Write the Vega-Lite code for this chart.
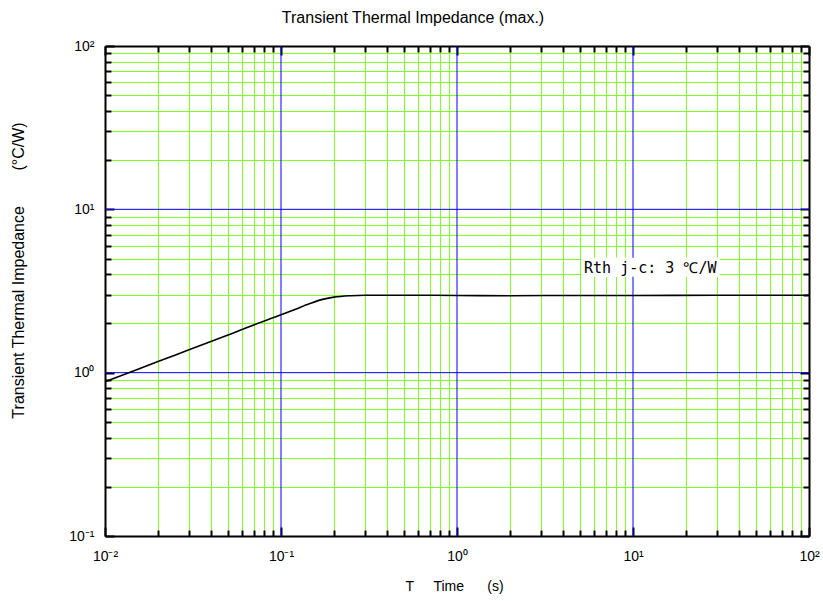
{
  "$schema": "https://vega.github.io/schema/vega-lite/v6.json",
  "width": 704,
  "height": 490,
  "autosize": "none",
  "padding": {"left": 105, "top": 46, "right": 14, "bottom": 65},
  "background": "white",
  "config": {"view": {"stroke": null}, "font": "Liberation Sans"},
  "title": {"text": "Transient Thermal Impedance (max.)", "fontSize": 16, "fontWeight": "normal", "font": "Liberation Sans", "color": "black", "offset": 13, "dx": -44},
  "datasets": {
    "curve": [
      {"t": 0.01, "z": 0.88}, {"t": 0.015, "z": 1.04}, {"t": 0.02, "z": 1.17}, {"t": 0.03, "z": 1.38},
      {"t": 0.05, "z": 1.70}, {"t": 0.07, "z": 1.96}, {"t": 0.1, "z": 2.26}, {"t": 0.12, "z": 2.44},
      {"t": 0.146, "z": 2.65}, {"t": 0.17, "z": 2.80}, {"t": 0.2, "z": 2.90}, {"t": 0.25, "z": 2.96},
      {"t": 0.3, "z": 2.98}, {"t": 0.5, "z": 2.98}, {"t": 1, "z": 2.97}, {"t": 2, "z": 2.96},
      {"t": 5, "z": 2.97}, {"t": 10, "z": 2.97}, {"t": 30, "z": 2.98}, {"t": 100, "z": 2.98}
    ],
    "note": [
      {"label": "Rth j-c: 3 ℃/W", "t": 5.27, "z": 4.4, "t1": 5.1, "t2": 31, "z1": 3.87, "z2": 5.06}
    ],
    "majorT": [{"v": 0.1}, {"v": 1}, {"v": 10}],
    "majorZ": [{"v": 1}, {"v": 10}]
  },
  "resolve": {"axis": {"x": "independent", "y": "independent"}},
  "layer": [
    {
      "data": {"name": "note"},
      "mark": {"type": "rect", "color": "white"},
      "encoding": {
        "x": {"field": "t1", "type": "quantitative",
          "scale": {"type": "log", "domain": [0.01, 100], "nice": false},
          "axis": {"orient": "bottom", "title": null, "labels": false, "domain": false,
            "values": [0.02,0.03,0.04,0.05,0.06,0.07,0.08,0.09,0.2,0.3,0.4,0.5,0.6,0.7,0.8,0.9,2,3,4,5,6,7,8,9,20,30,40,50,60,70,80,90],
            "grid": true, "gridColor": "#80ff20", "gridWidth": 1, "gridOpacity": 1,
            "tickColor": "black", "tickWidth": 2, "tickSize": -6}},
        "x2": {"field": "t2"},
        "y": {"field": "z1", "type": "quantitative",
          "scale": {"type": "log", "domain": [0.1, 100], "nice": false},
          "axis": {"orient": "left", "title": null, "labels": false, "domain": false,
            "values": [0.2,0.3,0.4,0.5,0.6,0.7,0.8,0.9,2,3,4,5,6,7,8,9,20,30,40,50,60,70,80,90],
            "grid": true, "gridColor": "#80ff20", "gridWidth": 1, "gridOpacity": 1,
            "tickColor": "black", "tickWidth": 2, "tickSize": -6}},
        "y2": {"field": "z2"}
      }
    },
    {
      "data": {"name": "majorT"},
      "mark": {"type": "rule", "color": "#0000ff", "strokeWidth": 1},
      "encoding": {
        "x": {"field": "v", "type": "quantitative", "scale": {"type": "log", "domain": [0.01, 100], "nice": false}, "axis": null}
      }
    },
    {
      "data": {"name": "majorZ"},
      "mark": {"type": "rule", "color": "#0000ff", "strokeWidth": 1},
      "encoding": {
        "y": {"field": "v", "type": "quantitative", "scale": {"type": "log", "domain": [0.1, 100], "nice": false}, "axis": null}
      }
    },
    {
      "data": {"name": "note"},
      "mark": {"type": "rect", "color": "white"},
      "encoding": {
        "x": {"field": "t1", "type": "quantitative",
          "scale": {"type": "log", "domain": [0.01, 100], "nice": false},
          "axis": {"orient": "top", "title": null, "labels": false, "grid": false, "domain": false,
            "values": [0.02,0.03,0.04,0.05,0.06,0.07,0.08,0.09,0.2,0.3,0.4,0.5,0.6,0.7,0.8,0.9,2,3,4,5,6,7,8,9,20,30,40,50,60,70,80,90],
            "tickColor": "black", "tickWidth": 2, "tickSize": -6}},
        "x2": {"field": "t2"},
        "y": {"field": "z1", "type": "quantitative",
          "scale": {"type": "log", "domain": [0.1, 100], "nice": false},
          "axis": {"orient": "right", "title": null, "labels": false, "grid": false, "domain": false,
            "values": [0.2,0.3,0.4,0.5,0.6,0.7,0.8,0.9,2,3,4,5,6,7,8,9,20,30,40,50,60,70,80,90],
            "tickColor": "black", "tickWidth": 2, "tickSize": -6}},
        "y2": {"field": "z2"}
      }
    },
    {
      "data": {"name": "curve"},
      "mark": {"type": "line", "color": "black", "strokeWidth": 1.6, "interpolate": "monotone"},
      "encoding": {
        "x": {"field": "t", "type": "quantitative",
          "scale": {"type": "log", "domain": [0.01, 100], "nice": false},
          "axis": {"orient": "bottom", "title": "T\u00a0\u00a0\u00a0\u00a0\u00a0Time\u00a0\u00a0\u00a0\u00a0\u00a0\u00a0(s)", "titleFontSize": 14, "titleFontWeight": "normal", "titleColor": "black", "titlePadding": 16, "titleX": 349,
            "values": [0.01, 0.1, 1, 10, 100],
            "grid": false,
            "tickColor": "black", "tickWidth": 2, "tickSize": -9,
            "domain": true, "domainColor": "black", "domainWidth": 2,
            "labelExpr": "datum.value==0.01?'10⁻²':datum.value==0.1?'10⁻¹':datum.value==1?'10⁰':datum.value==10?'10¹':'10²'",
            "labelFontSize": 14, "labelColor": "black", "labelPadding": 22, "labelOverlap": false, "labelBound": false, "labelFlush": false}},
        "y": {"field": "z", "type": "quantitative",
          "scale": {"type": "log", "domain": [0.1, 100], "nice": false},
          "axis": {"orient": "left", "title": "Transient Thermal Impedance\u00a0\u00a0\u00a0\u00a0\u00a0\u00a0\u00a0\u00a0(°C/W)", "titleFontSize": 16, "titleFontWeight": "normal", "titleColor": "black",
            "titleX": -87, "titleY": 224, "titleBaseline": "middle", "titleAngle": 270,
            "values": [0.1, 1, 10, 100],
            "grid": false,
            "tickColor": "black", "tickWidth": 2, "tickSize": -9,
            "domain": true, "domainColor": "black", "domainWidth": 2,
            "labelExpr": "datum.value==0.1?'10⁻¹':datum.value==1?'10⁰':datum.value==10?'10¹':'10²'",
            "labelFontSize": 14, "labelColor": "black", "labelPadding": 20, "labelOverlap": false, "labelBound": false, "labelFlush": false}}
      }
    },
    {
      "data": {"name": "note"},
      "mark": {"type": "text", "align": "left", "baseline": "middle", "font": "DejaVu Sans Mono", "fontSize": 15, "color": "black"},
      "encoding": {
        "x": {"field": "t", "type": "quantitative",
          "scale": {"type": "log", "domain": [0.01, 100], "nice": false},
          "axis": {"orient": "top", "title": null, "labels": false, "grid": false,
            "values": [0.01, 0.1, 1, 10, 100],
            "tickColor": "black", "tickWidth": 2, "tickSize": -9,
            "domain": true, "domainColor": "black", "domainWidth": 2}},
        "y": {"field": "z", "type": "quantitative",
          "scale": {"type": "log", "domain": [0.1, 100], "nice": false},
          "axis": {"orient": "right", "title": null, "labels": false, "grid": false,
            "values": [0.1, 1, 10, 100],
            "tickColor": "black", "tickWidth": 2, "tickSize": -9,
            "domain": true, "domainColor": "black", "domainWidth": 2}},
        "text": {"field": "label"}
      }
    }
  ]
}
